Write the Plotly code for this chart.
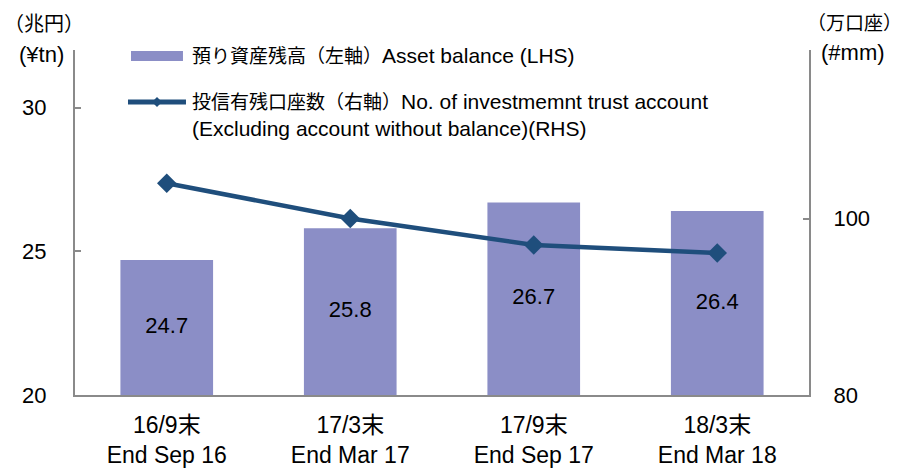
import plotly.graph_objects as go

categories = ["16/9末<br>End Sep 16", "17/3末<br>End Mar 17", "17/9末<br>End Sep 17", "18/3末<br>End Mar 18"]
asset_balance = [24.7, 25.8, 26.7, 26.4]
accounts = [104.0, 100.0, 97.0, 96.1]
left_ticks = [20, 25, 30]
right_ticks = [80, 100]
left_min = 20

BAR = "#8B8EC6"
LINE = "#1F4E7C"
AXIS = "#8A8A8A"
FONT = "Liberation Sans, Arial, Noto Sans CJK JP, sans-serif"

fig = go.Figure()
fig.add_trace(go.Bar(
    x=categories, y=asset_balance, width=0.505, marker=dict(color=BAR, line=dict(width=0)),
    yaxis="y", showlegend=False))
# value labels centred in the visible part of each bar
fig.add_trace(go.Scatter(
    x=categories, y=[(left_min + v) / 2 for v in asset_balance], mode="text",
    text=[f"{v:.1f}" for v in asset_balance], textposition="middle center",
    textfont=dict(size=22, color="black", family=FONT), yaxis="y", showlegend=False))
fig.add_trace(go.Scatter(
    x=categories, y=accounts, mode="lines+markers", yaxis="y2",
    line=dict(color=LINE, width=4.5), marker=dict(symbol="diamond", size=15, color=LINE),
    showlegend=False))

fig.update_layout(
    width=906, height=468, margin=dict(l=75, r=97, t=50, b=73),
    paper_bgcolor="white", plot_bgcolor="white",
    font=dict(family=FONT, size=22, color="black"),
    xaxis=dict(type="category", range=[-0.5, 3.5], showline=True, linecolor=AXIS, linewidth=2,
               ticks="", showgrid=False, ticklabelstandoff=8, tickfont=dict(size=23),
               automargin=False),
    yaxis=dict(range=[left_min, 32], tickvals=left_ticks, showline=True, linecolor=AXIS, linewidth=2,
               ticks="inside", ticklen=6, tickcolor=AXIS, tickwidth=1.5, showgrid=False,
               zeroline=False, ticklabelstandoff=22, tickfont=dict(size=22), automargin=False),
    yaxis2=dict(range=[80, 119.1], tickvals=right_ticks, overlaying="y", side="right", showline=True,
                linecolor=AXIS, linewidth=2, ticks="inside", ticklen=6, tickcolor=AXIS, tickwidth=1.5,
                showgrid=False, zeroline=False, ticklabelstandoff=18, tickfont=dict(size=22),
                automargin=False),
)

shapes = [
    dict(type="rect", xref="paper", yref="paper", x0=0.0763, x1=0.1471, y0=0.9681, y1=0.9971,
         fillcolor=BAR, line=dict(width=0)),
    dict(type="line", xref="paper", yref="paper", x0=0.0722, x1=0.1512, y0=0.8493, y1=0.8493,
         line=dict(color=LINE, width=5)),
    dict(type="path", xref="paper", yref="paper",
         path="M 0.1049 0.8493 L 0.1117 0.8638 L 0.1185 0.8493 L 0.1117 0.8348 Z",
         fillcolor=LINE, line=dict(color=LINE, width=0)),
]
fig.update_layout(shapes=shapes)

cjk = lambda s: f'<span style="font-size:19px">{s}</span>'
annots = [
    dict(x=0.1567, y=0.984, text=cjk("預り資産残高（左軸）") + "Asset balance (LHS)"),
    dict(x=0.1567, y=0.8493, text=cjk("投信有残口座数（右軸）") + "No. of investmemnt trust account"),
    dict(x=0.1567, y=0.7739, text="(Excluding account without balance)(RHS)"),
]
for a in annots:
    fig.add_annotation(xref="paper", yref="paper", xanchor="left", yanchor="middle", showarrow=False,
                       font=dict(size=21, family=FONT, color="black"), **a)

titles = [
    dict(x=-0.0422, y=1.0754, text="（兆円）", size=20, xanchor="center"),
    dict(x=-0.0463, y=0.9884, text="(¥tn)", size=22, xanchor="center"),
    dict(x=1.1300, y=1.0754, text="（万口座）", size=19, xanchor="right"),
    dict(x=1.0600, y=0.9942, text="(#mm)", size=22, xanchor="center"),
]
for a in titles:
    sz = a.pop("size")
    fig.add_annotation(xref="paper", yref="paper", yanchor="middle", showarrow=False,
                       font=dict(size=sz, family=FONT, color="black"), **a)

fig.write_html("out.html", config={"displayModeBar": False},
               post_script="document.body.style.margin='0';document.body.style.padding='0';")
